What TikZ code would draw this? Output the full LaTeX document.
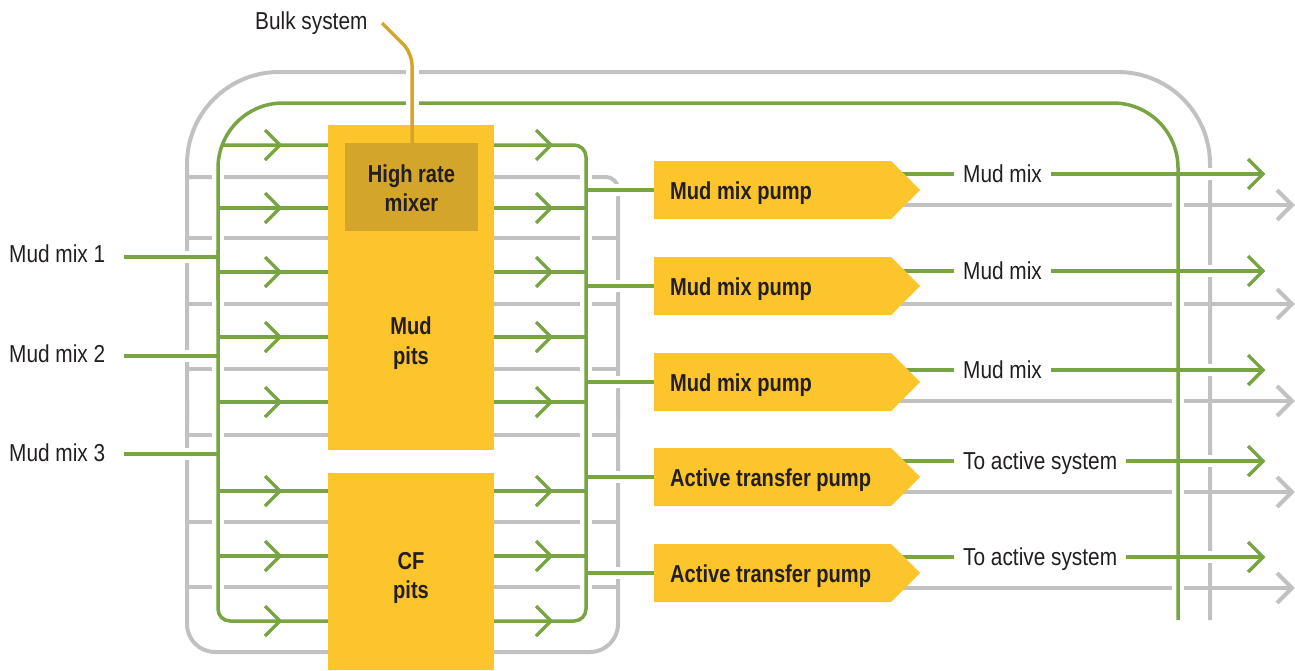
\documentclass[tikz,border=0pt]{standalone}
\usepackage{fontspec}
\setmainfont{Liberation Sans}[FakeStretch=0.85, BoldFeatures={FakeStretch=0.82}]
\definecolor{grn}{HTML}{78A443}
\definecolor{gry}{HTML}{C1C1C1}
\definecolor{yel}{HTML}{FDC52C}
\definecolor{gold}{HTML}{D4A52B}
\definecolor{txt}{HTML}{231F20}
\tikzset{
  graypipe/.style={draw=gry, line width=4pt},
  greenpipe/.style={draw=grn, line width=3.5pt},
  halo/.style={draw=white, line width=12pt},
  lbl/.style={text=txt, font=\fontsize{24.5}{27}\selectfont, inner sep=0pt},
  blbl/.style={text=txt, font=\bfseries\fontsize{24.5}{29.5}\selectfont, inner sep=0pt, align=center},
}
\begin{document}
\begin{tikzpicture}[x=1pt,y=-1pt]
\useasboundingbox (0,0) rectangle (1295,670);

% ---------------- gray network ----------------
\draw[graypipe, rounded corners=92] (1210,620) -- (1210,72) -- (187,72) -- (187,420);
\draw[graypipe, rounded corners=28] (187,400) -- (187,652) -- (618,652) -- (618,400);
\draw[graypipe, rounded corners=12] (187,177) -- (618,177) -- (618,420);
\foreach \y in {238,304,369,435,522,587}
  \draw[graypipe] (187,\y) -- (618,\y);
\foreach \y in {205,304,401,492,588}{
  \draw[graypipe] (880,\y) -- (1290,\y);
  \draw[draw=gry, line width=4pt] (1277,\y-15) -- (1292,\y) -- (1277,\y+15);
}

% ---------------- white gaps where green crosses gray ----------------
\draw[halo] (218,170) -- (218,615);
\draw[halo] (586,155) -- (586,612);
\draw[halo] (1178,150) -- (1178,620);
\foreach \y in {257,356,454} \draw[halo] (124,\y) -- (214,\y);
\foreach \y in {190,286,382,477,573} \draw[halo] (592,\y) -- (654,\y);
\foreach \y in {174,271,370,461,557} \draw[halo] (925,\y) -- (1250,\y);

% ---------------- green network ----------------
\draw[greenpipe, rounded corners=65] (1178,620) -- (1178,103) -- (218,103) -- (218,300);
\draw[greenpipe, rounded corners=12] (218,250) -- (218,621) -- (586,621) -- (586,145) -- (222,145);
\foreach \y in {208,272,337,402,491,556}
  \draw[greenpipe] (218,\y) -- (586,\y);
\foreach \y in {145,208,272,337,402,491,556,621}{
  \draw[draw=grn, line width=3.5pt] (265,\y-15) -- (280,\y) -- (265,\y+15);
  \draw[draw=grn, line width=3.5pt] (536,\y-15) -- (551,\y) -- (536,\y+15);
}
\coordinate (in1) at (124,257);
\coordinate (in2) at (124,356);
\coordinate (in3) at (124,454);
\foreach \n/\y in {1/257,2/356,3/454}
  \draw[greenpipe] (in\n) -- (218,\y);
\foreach \y in {190,286,382,477,573}
  \draw[greenpipe] (586,\y) -- (660,\y);
\foreach \y in {174,271,370,461,557}{
  \draw[greenpipe] (880,\y) -- (1261,\y);
  \draw[draw=grn, line width=3.5pt] (1248,\y-15) -- (1263,\y) -- (1248,\y+15);
}

% ---------------- boxes ----------------
\fill[yel] (328,125) rectangle (494,450);
\fill[gold] (345,143) rectangle (478,231);
\fill[yel] (328,473) rectangle (494,670);
\node[blbl] (mixer) at (411.5,188) {High rate\\mixer};
\node[blbl] (pits) at (411,343) {Mud\\pits};
\node[blbl] (cf) at (411,578) {CF\\pits};

% pumps
\foreach \n/\c/\t in {1/190/Mud mix pump,2/286/Mud mix pump,3/382/Mud mix pump,4/477/Active transfer pump,5/573/Active transfer pump}{
  \fill[yel] (654,\c-29) -- (891,\c-29) -- (920,\c) -- (891,\c+29) -- (654,\c+29) -- cycle;
  \node[blbl, anchor=base west] (p\n) at (670,\c+9) {\t};
}

% ---------------- output labels ----------------
\foreach \n/\y/\t in {1/174/Mud mix,2/271/Mud mix,3/370/Mud mix,4/461/To active system,5/557/To active system}
  \node[lbl, fill=white, inner xsep=9pt, inner ysep=3pt, anchor=base west] (o\n) at (954,\y+8.5) {\t};

% ---------------- left labels ----------------
\node[lbl, anchor=base west] (mm1) at (9,262) {Mud mix 1};
\node[lbl, anchor=base west] (mm2) at (9,362) {Mud mix 2};
\node[lbl, anchor=base west] (mm3) at (9,461) {Mud mix 3};

% ---------------- bulk system ----------------
\node[lbl, anchor=base west] (bulk) at (255,29) {Bulk system};
\coordinate (bulkstart) at (382,23);
\coordinate (bulkend) at (412,143);
\draw[draw=white, line width=13pt] (412,58) -- (412,115);
\draw[draw=gold, line width=3.5pt, rounded corners=12] (bulkstart) -- (412,53) -- (bulkend);
\end{tikzpicture}
\end{document}
